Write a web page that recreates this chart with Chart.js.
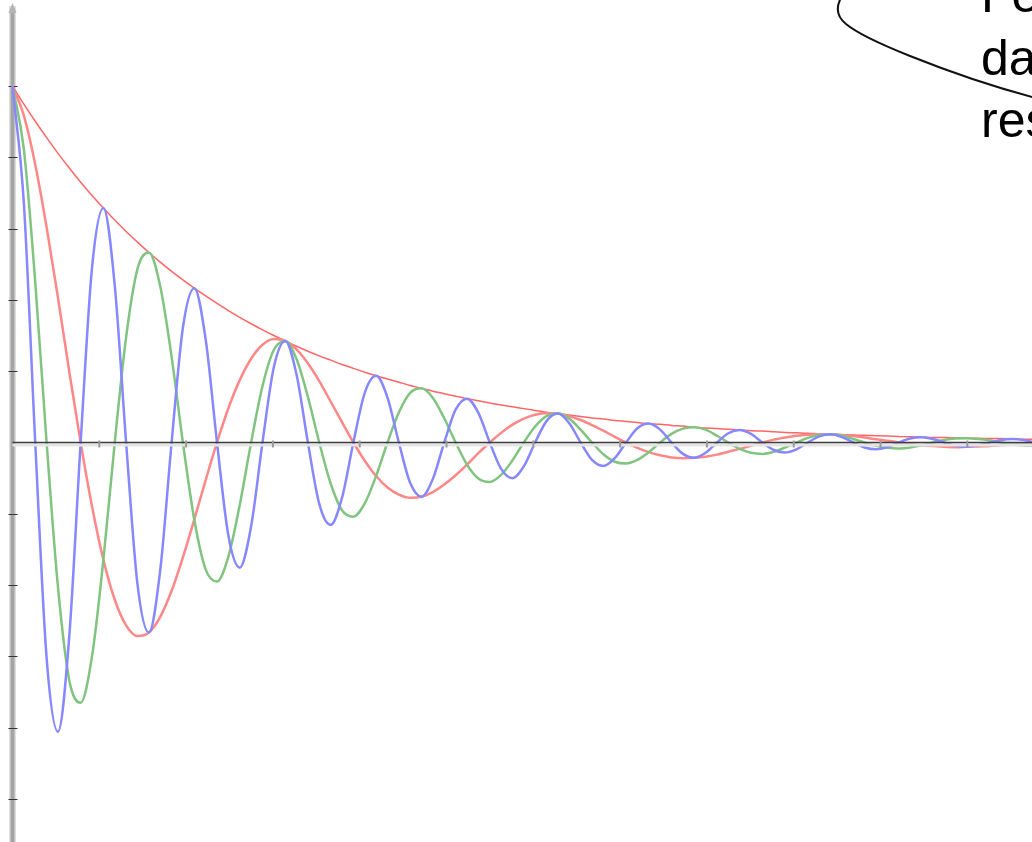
<!DOCTYPE html>
<html>
<head>
<meta charset="utf-8">
<script src="https://cdn.jsdelivr.net/npm/chart.js@4/dist/chart.umd.min.js"></script>
<style>
  html, body { margin: 0; padding: 0; background: #ffffff; overflow: hidden; }
  canvas { display: block; }
</style>
</head>
<body>
<canvas id="c" width="1032" height="842"></canvas>
<script>
// Sample times (axis units) shared by all curves
const tValues = [
  0, 0.131, 0.262, 0.393, 0.524, 0.654, 0.785, 0.916, 1.047, 1.178,
  1.309, 1.440, 1.571, 1.702, 1.833, 1.963, 2.094, 2.225, 2.356, 2.487,
  2.618, 2.749, 2.880, 3.011, 3.142, 3.272, 3.403, 3.534, 3.665, 3.796,
  3.927, 4.058, 4.189, 4.320, 4.451, 4.581, 4.712, 4.843, 4.974, 5.105,
  5.236, 5.367, 5.498, 5.629, 5.760, 5.890, 6.021, 6.152, 6.283, 6.414,
  6.545, 6.676, 6.807, 6.938, 7.069, 7.199, 7.330, 7.461, 7.592, 7.723,
  7.854, 7.985, 8.116, 8.247, 8.378, 8.508, 8.639, 8.770, 8.901, 9.032,
  9.163, 9.294, 9.425, 9.556, 9.687, 9.817, 9.948, 10.079, 10.210, 10.341,
  10.472, 10.603, 10.734, 10.865, 10.996, 11.126, 11.257, 11.388, 11.519, 11.650,
  11.781
];

// Slow oscillation (red)
const redCurve = [
  1.000, 0.917, 0.780, 0.604, 0.406, 0.199, 0, -0.179, -0.329, -0.441,
  -0.513, -0.543, -0.533, -0.489, -0.416, -0.322, -0.216, -0.106, 0, 0.096,
  0.175, 0.235, 0.274, 0.290, 0.285, 0.261, 0.222, 0.172, 0.115, 0.057,
  0, -0.051, -0.094, -0.126, -0.146, -0.155, -0.152, -0.139, -0.118, -0.092,
  -0.062, -0.030, 0, 0.027, 0.050, 0.067, 0.078, 0.082, 0.081, 0.074,
  0.063, 0.049, 0.033, 0.016, 0, -0.015, -0.027, -0.036, -0.042, -0.044,
  -0.043, -0.040, -0.034, -0.026, -0.018, -0.009, 0, 0.008, 0.014, 0.019,
  0.022, 0.023, 0.023, 0.021, 0.018, 0.014, 0.009, 0.005, 0, -0.004,
  -0.008, -0.010, -0.012, -0.013, -0.012, -0.011, -0.010, -0.007, -0.005, -0.002,
  0
];

// Medium oscillation (green)
const greenCurve = [
  1.000, 0.822, 0.450, 0, -0.406, -0.667, -0.730, -0.600, -0.329, 0,
  0.296, 0.487, 0.533, 0.438, 0.240, 0, -0.216, -0.356, -0.390, -0.320,
  -0.175, 0, 0.158, 0.260, 0.285, 0.234, 0.128, 0, -0.115, -0.190,
  -0.208, -0.171, -0.094, 0, 0.084, 0.139, 0.152, 0.125, 0.068, 0,
  -0.062, -0.101, -0.111, -0.091, -0.050, 0, 0.045, 0.074, 0.081, 0.067,
  0.036, 0, -0.033, -0.054, -0.059, -0.049, -0.027, 0, 0.024, 0.039,
  0.043, 0.036, 0.019, 0, -0.018, -0.029, -0.032, -0.026, -0.014, 0,
  0.013, 0.021, 0.023, 0.019, 0.010, 0, -0.009, -0.015, -0.017, -0.014,
  -0.008, 0, 0.007, 0.011, 0.012, 0.010, 0.006, 0, -0.005, -0.008,
  -0.009
];

// Fast oscillation (blue)
const blueCurve = [
  1.000, 0.671, 0, -0.604, -0.811, -0.544, 0, 0.490, 0.658, 0.441,
  0, -0.398, -0.533, -0.358, 0, 0.322, 0.433, 0.290, 0, -0.261,
  -0.351, -0.235, 0, 0.212, 0.285, 0.191, 0, -0.172, -0.231, -0.155,
  0, 0.139, 0.187, 0.126, 0, -0.113, -0.152, -0.102, 0, 0.092,
  0.123, 0.083, 0, -0.074, -0.100, -0.067, 0, 0.060, 0.081, 0.054,
  0, -0.049, -0.066, -0.044, 0, 0.040, 0.053, 0.036, 0, -0.032,
  -0.043, -0.029, 0, 0.026, 0.035, 0.024, 0, -0.021, -0.028, -0.019,
  0, 0.017, 0.023, 0.015, 0, -0.014, -0.019, -0.013, 0, 0.011,
  0.015, 0.010, 0, -0.009, -0.012, -0.008, 0, 0.007, 0.010, 0.007,
  0
];

// Decay envelope (red, thin)
const envelopeCurve = [
  1.000, 0.949, 0.901, 0.855, 0.811, 0.770, 0.730, 0.693, 0.658, 0.624,
  0.592, 0.562, 0.533, 0.506, 0.480, 0.456, 0.433, 0.411, 0.390, 0.370,
  0.351, 0.333, 0.316, 0.300, 0.285, 0.270, 0.256, 0.243, 0.231, 0.219,
  0.208, 0.197, 0.187, 0.178, 0.169, 0.160, 0.152, 0.144, 0.137, 0.130,
  0.123, 0.117, 0.111, 0.105, 0.100, 0.095, 0.090, 0.085, 0.081, 0.077,
  0.073, 0.069, 0.066, 0.062, 0.059, 0.056, 0.053, 0.051, 0.048, 0.046,
  0.043, 0.041, 0.039, 0.037, 0.035, 0.033, 0.032, 0.030, 0.028, 0.027,
  0.026, 0.024, 0.023, 0.022, 0.021, 0.020, 0.019, 0.018, 0.017, 0.016,
  0.015, 0.014, 0.014, 0.013, 0.012, 0.012, 0.011, 0.011, 0.010, 0.009,
  0.009
];

const xTickValues = [1, 2, 3, 4, 5, 6, 7, 8, 9, 10, 11];
const yTickValues = [1, 0.8, 0.6, 0.4, 0.2, -0.2, -0.4, -0.6, -0.8, -1];
const noteLines = ['Fe', 'da', 'res'];

const toPoints = arr => tValues.map((t, i) => ({ x: t, y: arr[i] }));

// Hand-drawn style axes: grey vertical bar with ticks, dark horizontal line
const axesPlugin = {
  id: 'axes',
  beforeDatasetsDraw(chart) {
    const { ctx, scales: { x, y } } = chart;
    const x0 = x.getPixelForValue(0);
    ctx.save();
    ctx.fillStyle = '#dedede';
    ctx.fillRect(x0 - 3.5, 6, 7, chart.height);
    ctx.fillStyle = '#a4a4a4';
    ctx.fillRect(x0 - 2, 8, 4, chart.height);
    // arrow tip at the top
    ctx.fillStyle = '#b4b4b4';
    ctx.beginPath();
    ctx.moveTo(x0, 3);
    ctx.lineTo(x0 - 4, 13);
    ctx.lineTo(x0 + 4, 13);
    ctx.closePath();
    ctx.fill();
    ctx.strokeStyle = '#333333';
    ctx.lineWidth = 1;
    yTickValues.forEach(v => {
      const py = Math.round(y.getPixelForValue(v)) + 0.5;
      ctx.beginPath();
      ctx.moveTo(x0 - 4, py);
      ctx.lineTo(x0 + 5, py);
      ctx.stroke();
    });
    ctx.restore();
  },
  afterDatasetsDraw(chart) {
    const { ctx, scales: { x, y } } = chart;
    const x0 = x.getPixelForValue(0);
    const y0 = y.getPixelForValue(0);
    ctx.save();
    ctx.fillStyle = '#e4e4e4';
    ctx.fillRect(x0, y0 + 1, chart.width - x0, 3);
    ctx.strokeStyle = '#3c3c3c';
    ctx.lineWidth = 1.5;
    ctx.beginPath();
    ctx.moveTo(x0, y0);
    ctx.lineTo(chart.width, y0);
    ctx.stroke();
    ctx.strokeStyle = '#9a9a9a';
    ctx.lineWidth = 2;
    xTickValues.forEach(v => {
      const px = x.getPixelForValue(v);
      ctx.beginPath();
      ctx.moveTo(px, y0 - 2);
      ctx.lineTo(px, y0 + 5);
      ctx.stroke();
    });
    ctx.restore();
  },
  afterDraw(chart) {
    const { ctx } = chart;
    ctx.save();
    // speech bubble outline
    ctx.strokeStyle = '#111111';
    ctx.lineWidth = 2;
    ctx.beginPath();
    ctx.moveTo(842, -4);
    ctx.bezierCurveTo(836, 6, 836, 16, 846, 24);
    ctx.bezierCurveTo(858, 34, 880, 44, 910, 56);
    ctx.bezierCurveTo(950, 72, 990, 86, 1036, 98);
    ctx.stroke();
    // note text
    ctx.fillStyle = '#000000';
    ctx.font = '50px "Liberation Sans", Arial, sans-serif';
    ctx.textBaseline = 'alphabetic';
    ctx.textAlign = 'left';
    const baselines = [12, 74.5, 137];
    noteLines.forEach((s, i) => ctx.fillText(s, 981, baselines[i]));
    ctx.restore();
  }
};

new Chart(document.getElementById('c'), {
  type: 'line',
  data: {
    datasets: [
      { label: 'fast', data: toPoints(blueCurve), borderColor: 'rgb(135,135,255)', borderWidth: 2.5 },
      { label: 'medium', data: toPoints(greenCurve), borderColor: 'rgb(128,196,128)', borderWidth: 2.5 },
      { label: 'slow', data: toPoints(redCurve), borderColor: 'rgb(255,135,135)', borderWidth: 2.5 },
      { label: 'envelope', data: toPoints(envelopeCurve), borderColor: 'rgba(255,50,50,0.75)', borderWidth: 1.5 }
    ]
  },
  options: {
    responsive: false,
    animation: false,
    events: [],
    layout: { padding: 0 },
    elements: {
      point: { radius: 0 },
      line: { cubicInterpolationMode: 'monotone', fill: false }
    },
    plugins: { legend: { display: false }, tooltip: { enabled: false }, title: { display: false } },
    scales: {
      x: { type: 'linear', display: false, min: -0.144, max: 11.745 },
      y: { type: 'linear', display: false, min: -1.1206, max: 1.2412 }
    }
  },
  plugins: [axesPlugin]
});
</script>
</body>
</html>
